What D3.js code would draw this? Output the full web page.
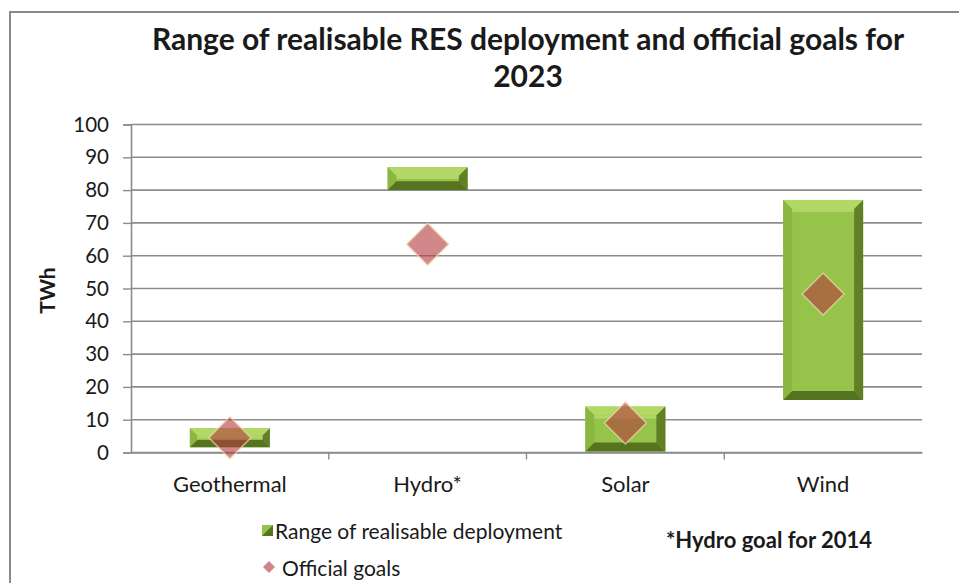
<!DOCTYPE html>
<html>
<head>
<meta charset="utf-8">
<script src="https://cdn.jsdelivr.net/npm/d3@7"></script>
<style>
  html, body { margin: 0; padding: 0; background: #fff; }
  svg { display: block; }
  text { font-family: Lato, "Open Sans", "Noto Sans", sans-serif; fill: #1a1a1a; }
</style>
</head>
<body>
<svg id="chart" width="959" height="583"></svg>
<script>
// RES deployment ranges and official goals (TWh)
const categories = ["Geothermal", "Hydro*", "Solar", "Wind"];
const rangeLow   = [1.6, 80, 0.3, 16];
const rangeHigh  = [7.4, 87, 14, 77];
const goals      = [4.5, 63.5, 9, 48.3];
const yTicks     = [0, 10, 20, 30, 40, 50, 60, 70, 80, 90, 100];
const titleLines = ["Range of realisable RES deployment and official goals for", "2023"];
const legendLabels = ["Range of realisable deployment", "Official goals"];
const noteText = "*Hydro goal for 2014";

const svg = d3.select("#chart");
const W = 959, H = 583;
const plot = { left: 131, right: 922, top: 124.5, bottom: 452.5 };

// Outer chart frame
svg.append("rect")
  .attr("x", 10).attr("y", 12)
  .attr("width", W + 20).attr("height", H + 20)
  .attr("fill", "#fff").attr("stroke", "#8a8a8a").attr("stroke-width", 2);

// Title
const title = svg.append("text")
  .attr("text-anchor", "middle")
  .attr("font-size", 30).attr("font-weight", 700);
titleLines.forEach((t, i) => {
  title.append("tspan").attr("x", 528).attr("y", 50 + i * 37).text(t);
});

const x = d3.scaleBand().domain(categories).range([plot.left, plot.right]).paddingInner(0).paddingOuter(0);
const y = d3.scaleLinear().domain([0, 100]).range([plot.bottom, plot.top]);

// Horizontal gridlines
svg.append("g")
  .selectAll("line").data(yTicks).join("line")
  .attr("x1", plot.left).attr("x2", plot.right)
  .attr("y1", d => y(d)).attr("y2", d => y(d))
  .attr("stroke", "#8c8c8c").attr("stroke-width", 1.6);

// Y axis
const yAxis = svg.append("g")
  .attr("transform", `translate(${plot.left},0)`)
  .call(d3.axisLeft(y).tickValues(yTicks).tickSize(8).tickPadding(14));
yAxis.select(".domain").attr("stroke", "#8c8c8c").attr("stroke-width", 1.6);
yAxis.selectAll(".tick line").attr("stroke", "#8c8c8c").attr("stroke-width", 1.4);
yAxis.selectAll(".tick text").attr("font-size", 20.5).attr("fill", "#222")
  .style("font-family", "Lato, 'Open Sans', sans-serif");

// X axis
const xAxis = svg.append("g")
  .attr("transform", `translate(0,${plot.bottom})`)
  .call(d3.axisBottom(x).tickSize(0).tickPadding(24));
xAxis.select(".domain").attr("stroke", "#8c8c8c").attr("stroke-width", 1.6);
xAxis.selectAll(".tick text").attr("font-size", 22).attr("fill", "#222")
  .style("font-family", "Lato, 'Open Sans', sans-serif");
// Category separator ticks
svg.append("g").selectAll("line")
  .data(categories.slice(0, -1))
  .join("line")
  .attr("x1", c => x(c) + x.bandwidth())
  .attr("x2", c => x(c) + x.bandwidth())
  .attr("y1", plot.bottom).attr("y2", plot.bottom + 7)
  .attr("stroke", "#8c8c8c").attr("stroke-width", 1.4);

// Y axis title
svg.append("text")
  .attr("transform", `translate(55,${(plot.top + plot.bottom) / 2 + 2}) rotate(-90)`)
  .attr("text-anchor", "middle")
  .attr("font-size", 21).attr("font-weight", 700)
  .text("TWh");

// Bevelled floating bars
const barW = 80;
const bevel = 9;
const barData = categories.map((c, i) => ({ c, lo: rangeLow[i], hi: rangeHigh[i] }));
const bars = svg.append("g").selectAll("g").data(barData).join("g");
bars.each(function(d) {
  const g = d3.select(this);
  const x0 = x(d.c) + (x.bandwidth() - barW) / 2, x1 = x0 + barW;
  const y0 = y(d.hi), y1 = y(d.lo);
  const b = Math.min(bevel, (y1 - y0) / 2.6);
  const pts = a => a.map(p => p.join(",")).join(" ");
  // face
  g.append("rect").attr("x", x0).attr("y", y0).attr("width", barW).attr("height", y1 - y0)
    .attr("fill", "#96c34a");
  // top edge
  g.append("polygon").attr("points", pts([[x0, y0], [x1, y0], [x1 - b, y0 + b], [x0 + b, y0 + b]]))
    .attr("fill", "#b2d865");
  // left edge
  g.append("polygon").attr("points", pts([[x0, y0], [x0 + b, y0 + b], [x0 + b, y1 - b], [x0, y1]]))
    .attr("fill", "#8ab740");
  // right edge
  g.append("polygon").attr("points", pts([[x1, y0], [x1 - b, y0 + b], [x1 - b, y1 - b], [x1, y1]]))
    .attr("fill", "#607f27");
  // bottom edge
  g.append("polygon").attr("points", pts([[x0, y1], [x0 + b, y1 - b], [x1 - b, y1 - b], [x1, y1]]))
    .attr("fill", "#56731f");
  // soft highlight just under the top edge
  g.append("rect").attr("x", x0 + b).attr("y", y0 + b).attr("width", barW - 2 * b)
    .attr("height", Math.min(3, (y1 - y0) / 6)).attr("fill", "#c4e27c").attr("opacity", 0.6);
});

// Official goal diamonds
const dsz = 21;
svg.append("g").selectAll("path").data(goals).join("path")
  .attr("d", (v, i) => {
    const cx = x(categories[i]) + x.bandwidth() / 2, cy = y(v);
    return `M${cx},${cy - dsz} L${cx + dsz},${cy} L${cx},${cy + dsz} L${cx - dsz},${cy} Z`;
  })
  .attr("fill", "#b4383c").attr("fill-opacity", 0.6)
  .attr("stroke", "#f0dcb0").attr("stroke-opacity", 0.7).attr("stroke-width", 1.5);

// Legend
const lg = svg.append("g");
lg.append("rect").attr("x", 262).attr("y", 525).attr("width", 11).attr("height", 11).attr("fill", "#96c34a");
lg.append("polygon").attr("points", "262,536 273,525 273,536").attr("fill", "#56731f");
lg.append("text").attr("x", 275).attr("y", 539).attr("font-size", 21).text(legendLabels[0]);
lg.append("path").attr("d", "M269,561 L275,567 L269,573 L263,567 Z").attr("fill", "#d0868a");
lg.append("text").attr("x", 282).attr("y", 576).attr("font-size", 21).text(legendLabels[1]);

svg.append("text").attr("x", 666).attr("y", 548)
  .attr("font-size", 22).attr("font-weight", 700).text(noteText);
</script>
</body>
</html>
